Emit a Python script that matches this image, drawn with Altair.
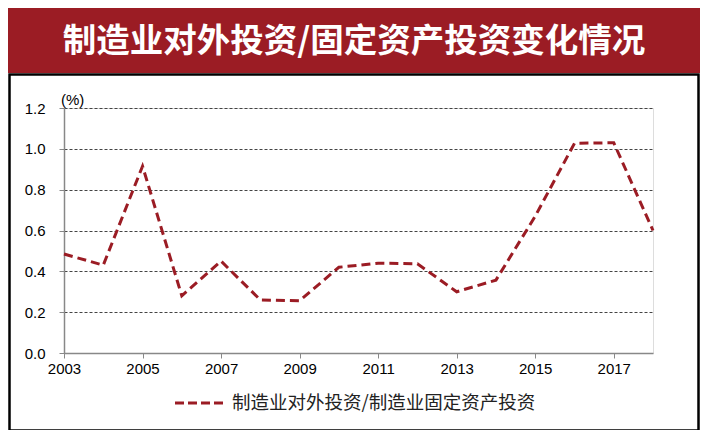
import altair as alt
import pandas as pd

years = list(range(2003, 2019))
ratio = [0.485, 0.43, 0.915, 0.28, 0.45, 0.26, 0.256, 0.42, 0.44, 0.437,
         0.30, 0.357, 0.67, 1.027, 1.03, 0.60]
x_ticks = [2003, 2005, 2007, 2009, 2011, 2013, 2015, 2017]
y_ticks = [0.0, 0.2, 0.4, 0.6, 0.8, 1.0, 1.2]
title_text = "制造业对外投资/固定资产投资变化情况"
legend_text = "制造业对外投资/制造业固定资产投资"
unit_text = "(%)"

RED = "#9b1c24"
FONT = "Liberation Sans"
CJK = "Noto Sans CJK SC"

df = pd.DataFrame({"year": years, "ratio": ratio})
one = alt.Data(values=[{"a": 1}])

W, H = 589, 245

banner = alt.Chart(one).mark_rect(color=RED).encode(
    x=alt.value(-61), x2=alt.value(636), y=alt.value(-102), y2=alt.value(-35))

title = alt.Chart(one).mark_text(
    text=title_text, font=CJK, fontSize=33.5, fontWeight="bold", color="white",
    align="center", baseline="middle").encode(
    x=alt.value(290), y=alt.value(-66))

border = alt.Chart(one).mark_rect(fill=None, stroke="black", strokeWidth=2.5).encode(
    x=alt.value(-54.5), x2=alt.value(634.5), y=alt.value(-33.5), y2=alt.value(322.5))

line = alt.Chart(df).mark_line(color=RED, strokeWidth=3, strokeDash=[9, 5]).encode(
    x=alt.X("year:Q", scale=alt.Scale(domain=[2003, 2018], nice=False, zero=False),
            axis=alt.Axis(values=x_ticks, format="d", title=None, grid=False,
                          domainColor="#888", domainWidth=1.5, tickColor="#888",
                          tickSize=5, labelPadding=3, labelFont=FONT, labelFontSize=15,
                          labelColor="black", labelFlush=False)),
    y=alt.Y("ratio:Q", scale=alt.Scale(domain=[0, 1.2], nice=False),
            axis=alt.Axis(values=y_ticks, format=".1f", title=None, grid=True,
                          gridColor="#444", gridDash=[3, 2], gridWidth=1,
                          domainColor="#888", domainWidth=1.5, tickColor="#888",
                          tickSize=5, labelPadding=14, labelFont=FONT, labelFontSize=15,
                          labelColor="black")),
)

unit = alt.Chart(one).mark_text(
    text=unit_text, font=FONT, fontSize=15, color="black", align="left",
    baseline="middle").encode(x=alt.value(-3), y=alt.value(-8))

leg_line = alt.Chart(one).mark_rule(color=RED, strokeWidth=3, strokeDash=[9, 4]).encode(
    x=alt.value(111), x2=alt.value(163), y=alt.value(295))

leg_text = alt.Chart(one).mark_text(
    text=legend_text, font=CJK, fontSize=18.5, color="#222", align="left",
    baseline="middle").encode(x=alt.value(168), y=alt.value(295))

chart = alt.layer(banner, title, border, line, unit, leg_line, leg_text).properties(
    width=W, height=H,
    autosize=alt.AutoSizeParams(type="none"),
    padding={"left": 56, "top": 100, "right": 47, "bottom": 77},
).configure_view(stroke=None).configure(background="white")

chart.save("out.html", embed_options={"renderer": "svg", "actions": False})
